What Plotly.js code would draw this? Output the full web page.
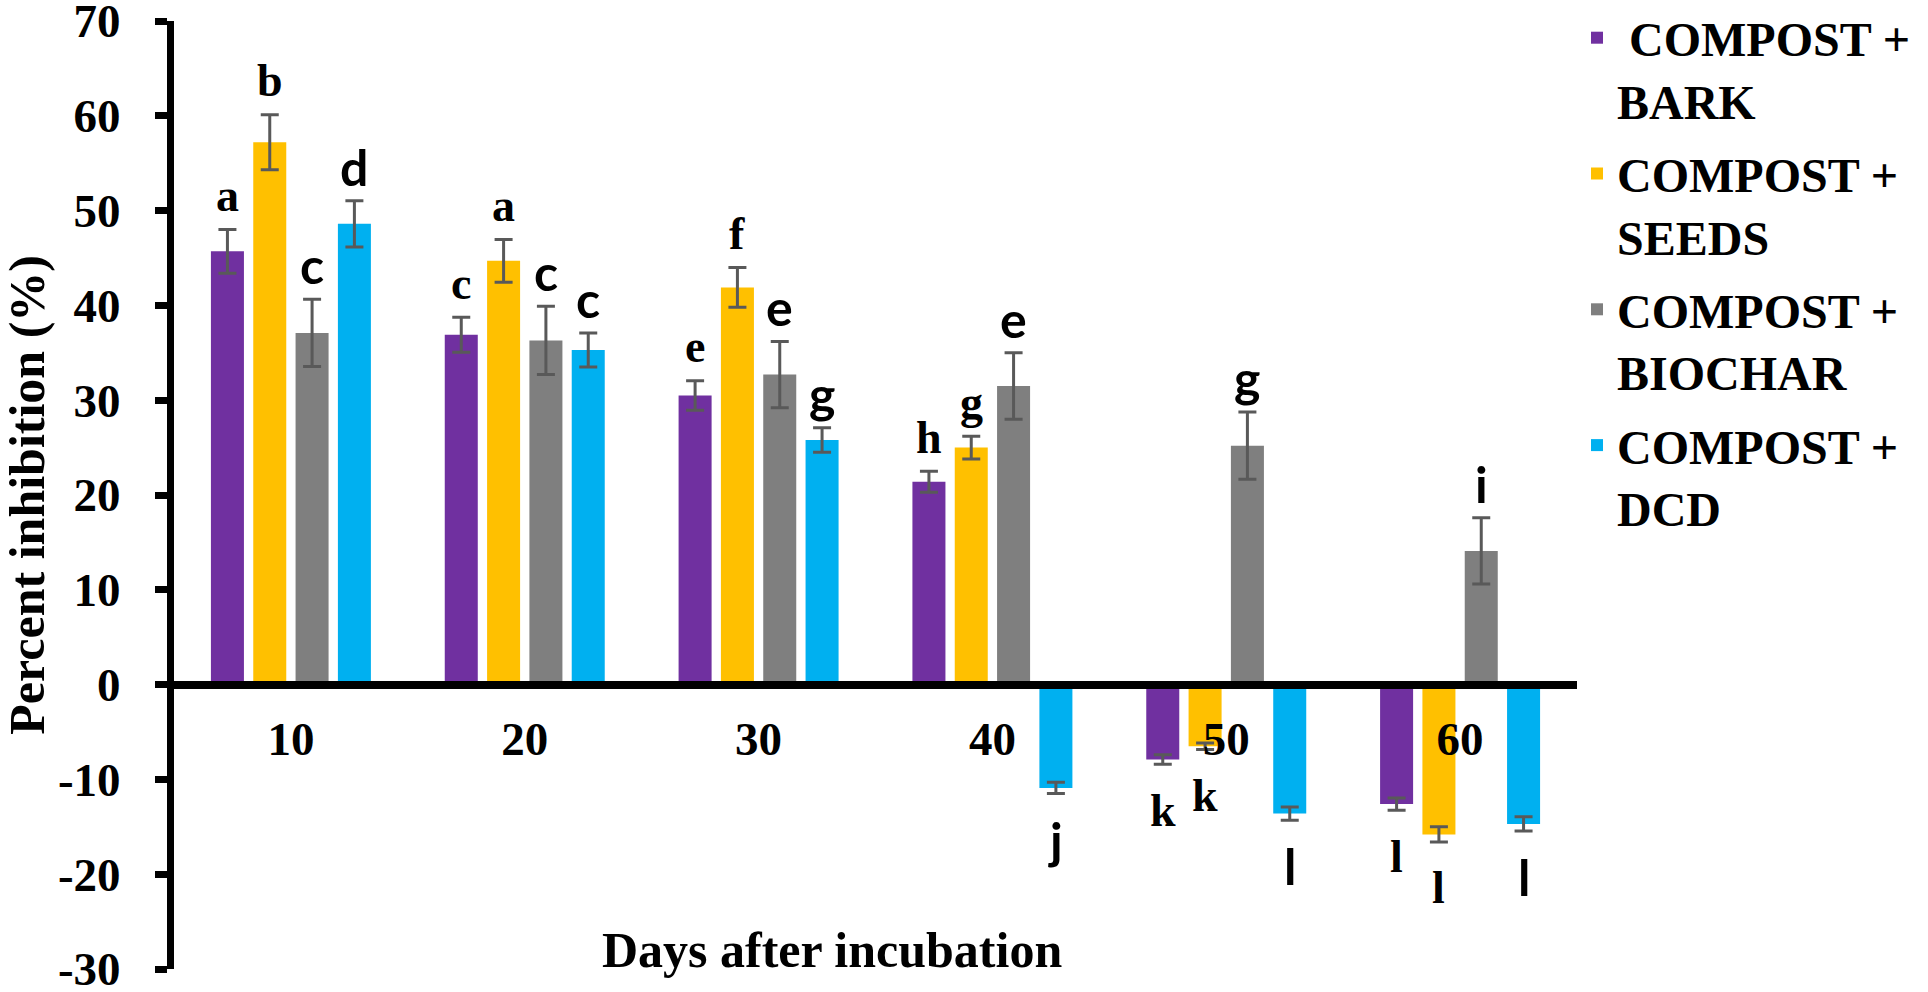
<!DOCTYPE html>
<html>
<head>
<meta charset="utf-8">
<script src="https://cdn.plot.ly/plotly-3.0.1.min.js"></script>
<style>
  html, body { margin: 0; padding: 0; background: #fff; }
  #plot { width: 1928px; height: 992px; }
</style>
</head>
<body>
<div id="plot"></div>
<script>
// days after incubation (categories)
const days = ['10', '20', '30', '40', '50', '60'];

// percent inhibition, mean and error per treatment
const barkMean = [45.7, 36.9, 30.5, 21.4, -7.9, -12.6];
const barkErr = [2.3, 1.85, 1.55, 1.1, 0.5, 0.65];
const seedsMean = [57.2, 44.7, 41.9, 25.0, -6.5, -15.8];
const seedsErr = [2.9, 2.25, 2.1, 1.2, 0.35, 0.8];
const biocharMean = [37.1, 36.3, 32.7, 31.5, 25.2, 14.1];
const biocharErr = [3.55, 3.6, 3.5, 3.5, 3.55, 3.5];
const dcdMean = [48.6, 35.3, 25.8, -10.9, -13.6, -14.7];
const dcdErr = [2.45, 1.8, 1.3, 0.6, 0.7, 0.75];

// significance letters
const barkLetters = ['a', 'c', 'e', 'h', 'k', 'l'];
const seedsLetters = ['b', 'a', 'f', 'g', 'k', 'l'];
const biocharLetters = ['c', 'c', 'e', 'e', 'g', 'i'];
const dcdLetters = ['d', 'c', 'g', 'j', 'l', 'l'];

const yTickVals = [-30, -20, -10, 0, 10, 20, 30, 40, 50, 60, 70];
const yTickText = ['-30', '-20', '-10', '0', '10', '20', '30', '40', '50', '60', '70'];

const SERIF = '"Times New Roman", "Liberation Serif", serif';
const SANS = 'Lato, "Open Sans", sans-serif';
const BARGAP = 0.276;

const series = [
  { name: '\u00A0COMPOST +<br>BARK', y: barkMean, err: barkErr, letters: barkLetters, color: '#7030A0', sans: false },
  { name: 'COMPOST +<br>SEEDS', y: seedsMean, err: seedsErr, letters: seedsLetters, color: '#FFC000', sans: false },
  { name: 'COMPOST +<br>BIOCHAR', y: biocharMean, err: biocharErr, letters: biocharLetters, color: '#7F7F7F', sans: true },
  { name: 'COMPOST +<br>DCD', y: dcdMean, err: dcdErr, letters: dcdLetters, color: '#00B0F0', sans: true }
];

const data = series.map((s, j) => ({
  type: 'bar',
  name: s.name,
  legendgroup: 'g' + j,
  x: days,
  y: s.y,
  marker: { color: s.color },
  error_y: { type: 'data', array: s.err, visible: true, color: '#595959', thickness: 3, width: 9 }
}));

// letters sit above/below the error bar of each bar
const slot = (1 - BARGAP) / series.length;
const annotations = [];
series.forEach((s, j) => {
  s.letters.forEach((letter, i) => {
    const up = s.y[i] >= 0;
    annotations.push({
      x: i + (j - (series.length - 1) / 2) * slot,
      y: up ? s.y[i] + s.err[i] : s.y[i] - s.err[i],
      xref: 'x', yref: 'y',
      text: letter,
      showarrow: false,
      xanchor: 'center',
      yanchor: 'middle',
      yshift: up ? 34 : -46,
      font: { family: s.sans ? SANS : SERIF, size: s.sans ? 50 : 46, color: '#000', weight: 'bold' }
    });
  });
});

annotations.push({
  xref: 'paper', yref: 'paper', x: 0.469, y: 0.02, xanchor: 'center', yanchor: 'middle',
  text: '<b>Days after incubation</b>', showarrow: false,
  font: { family: SERIF, size: 50, color: '#000' }
});
annotations.push({
  xref: 'paper', yref: 'paper', x: -0.105, y: 0.5, xanchor: 'center', yanchor: 'middle',
  textangle: -90,
  text: '<b>Percent inhibition (%)</b>', showarrow: false,
  font: { family: SERIF, size: 50, color: '#000' }
});

const layout = {
  width: 1928,
  height: 992,
  margin: { l: 174, r: 351, t: 21, b: 23, autoexpand: false },
  paper_bgcolor: '#fff',
  plot_bgcolor: '#fff',
  font: { family: SERIF, color: '#000' },
  barmode: 'group',
  bargap: BARGAP,
  bargroupgap: 0.22,
  showlegend: true,
  legend: {
    x: 1.0, xanchor: 'left', yref: 'container', y: 1.0, yanchor: 'top', valign: 'top',
    font: { family: SERIF, size: 48, color: '#000', weight: 'bold' },
    traceorder: 'grouped',
    tracegroupgap: 8,
    maxheight: 992
  },
  xaxis: {
    type: 'category',
    anchor: 'free',
    position: 0.3,
    showline: true, linecolor: '#000', linewidth: 8,
    showgrid: false, zeroline: false, ticks: '',
    ticklabelstandoff: 10,
    tickfont: { family: SERIF, size: 47, color: '#000', weight: 'bold' }
  },
  yaxis: {
    range: [-30, 70],
    tickvals: yTickVals, ticktext: yTickText,
    showline: true, linecolor: '#000', linewidth: 7,
    ticks: 'outside', ticklen: 12, tickwidth: 7, tickcolor: '#000',
    ticklabelstandoff: 25,
    ticklabeloverflow: 'allow',
    showgrid: false, zeroline: false,
    tickfont: { family: SERIF, size: 47, color: '#000', weight: 'bold' }
  },
  annotations: annotations
};

Plotly.newPlot(document.getElementById('plot'), data, layout, { displayModeBar: false, staticPlot: true });
</script>
</body>
</html>
